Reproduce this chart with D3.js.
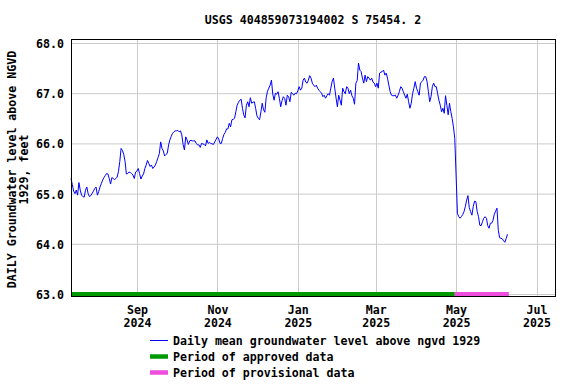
<!DOCTYPE html>
<html>
<head>
<meta charset="utf-8">
<script src="https://cdn.jsdelivr.net/npm/d3@7"></script>
<style>
  html, body { margin: 0; padding: 0; background: #fff; }
  svg { display: block; }
  text { font-family: "DejaVu Sans Mono", monospace; font-weight: bold; font-size: 11.6px; fill: #000; }
</style>
</head>
<body>
<svg id="chart" width="576" height="384"></svg>
<script>
// ---------------- DATA ----------------
const chartTitle = "USGS 404859073194002 S 75454. 2";
const yAxisLabel = ["DAILY Groundwater level above NGVD", "1929, feet"];
const seriesStart = "2024-07-13";          // first daily value
const dailyLevels = [
  65.30, 65.18, 65.05, 65.00, 65.07, 64.97, 65.22, 65.07, 64.97, 64.94,
  64.93, 65.07, 65.13, 65.00, 64.94, 64.96, 65.00, 65.05, 65.10, 65.13,
  64.97, 65.04, 65.13, 65.20, 65.27, 65.32, 65.36, 65.40, 65.39, 65.30,
  65.19, 65.32, 65.30, 65.28, 65.30, 65.33, 65.44, 65.64, 65.90, 65.86,
  65.78, 65.64, 65.39, 65.40, 65.43, 65.42, 65.40, 65.37, 65.30, 65.43,
  65.45, 65.50, 65.40, 65.29, 65.35, 65.39, 65.50, 65.57, 65.66, 65.60,
  65.54, 65.57, 65.50, 65.53, 65.57, 65.64, 65.72, 65.80, 66.03, 65.90,
  65.85, 65.75, 65.78, 65.80, 65.97, 66.07, 66.14, 66.20, 66.23, 66.25,
  66.25, 66.26, 66.23, 66.25, 66.17, 65.98, 65.87, 66.13, 66.07, 65.98,
  66.05, 66.06, 66.05, 66.05, 66.05, 66.00, 65.97, 65.97, 65.92, 66.00,
  65.99, 65.98, 65.95, 66.07, 66.00, 66.02, 66.00, 65.99, 65.98, 66.03,
  66.08, 66.13, 66.09, 66.00, 66.00, 66.10, 66.18, 66.22, 66.29, 66.29,
  66.40, 66.33, 66.47, 66.48, 66.50, 66.63, 66.76, 66.82, 66.86, 66.88,
  66.70, 66.57, 66.51, 66.76, 66.83, 66.73, 66.91, 66.80, 66.82, 66.83,
  66.70, 66.55, 66.50, 66.47, 66.63, 66.80, 66.67, 66.62, 66.91, 67.04,
  67.10, 67.16, 67.26, 66.98, 66.86, 67.00, 66.98, 67.03, 66.90, 66.73,
  66.85, 66.93, 66.90, 66.76, 66.96, 66.93, 66.83, 67.02, 66.99, 66.96,
  67.00, 66.99, 67.05, 67.13, 67.06, 67.10, 67.26, 67.30, 67.22, 67.20,
  67.26, 67.35, 67.30, 67.20, 67.16, 67.13, 67.16, 67.10, 67.06, 67.03,
  67.00, 66.93, 66.96, 66.90, 66.95, 66.99, 66.96, 67.10, 67.23, 67.30,
  67.10, 66.90, 66.73, 66.96, 66.86, 66.76, 67.10, 67.03, 66.99, 67.13,
  67.10, 66.99, 67.06, 66.95, 66.90, 66.78, 67.20, 67.25, 67.60, 67.46,
  67.43, 67.30, 67.20, 67.36, 67.23, 67.33, 67.30, 67.26, 67.30, 67.22,
  67.20, 67.13, 67.20, 67.10, 67.40, 67.42, 67.43, 67.46, 67.36, 67.40,
  67.30, 67.16, 67.03, 66.96, 66.95, 66.95, 66.96, 66.90, 66.96, 67.03,
  67.13, 67.10, 67.03, 66.96, 66.90, 66.98, 66.83, 66.70, 66.80, 66.99,
  67.10, 67.23, 67.10, 67.03, 66.96, 67.20, 67.23, 67.26, 67.33, 67.33,
  67.23, 67.03, 66.83, 66.93, 67.13, 67.20, 67.13, 67.13, 66.99, 66.86,
  66.76, 66.63, 66.70, 66.60, 66.95, 66.76, 66.57, 66.80, 66.63, 66.50,
  66.33, 66.10, 65.37, 64.61, 64.54, 64.51, 64.54, 64.58, 64.64, 64.74,
  64.87, 64.96, 64.72, 64.64, 64.57, 64.74, 64.85, 64.84, 64.64, 64.54,
  64.37, 64.36, 64.44, 64.51, 64.54, 64.51, 64.36, 64.31, 64.41, 64.41,
  64.47, 64.59, 64.65, 64.71, 64.27, 64.12, 64.11, 64.10, 64.06, 64.03,
  64.11, 64.19
];
const xDomain = ["2024-07-13", "2025-07-15"];
const yDomain = [63, 68];
const yTicks = [63, 64, 65, 66, 67, 68];
const xTicks = ["2024-09-01", "2024-11-01", "2025-01-01", "2025-03-01", "2025-05-01", "2025-07-01"];
const approvedPeriod = ["2024-07-13", "2025-04-30"];
const provisionalPeriod = ["2025-04-30", "2025-06-10"];
const legendLabels = [
  "Daily mean groundwater level above ngvd 1929",
  "Period of approved data",
  "Period of provisional data"
];

// ---------------- DRAW ----------------
const parse = d3.utcParse("%Y-%m-%d");
const svg = d3.select("#chart");
const mLeft = 71, mRight = 555, mTop = 39, mBottom = 296;

const x = d3.scaleUtc().domain(xDomain.map(parse)).range([mLeft, mRight]);
const y = d3.scaleLinear().domain(yDomain).range([294, 43]);

const start = parse(seriesStart);
const series = dailyLevels.map((v, i) => ({ date: d3.utcDay.offset(start, i), value: v }));

// grid
const grid = svg.append("g");
grid.selectAll("line.h").data(yTicks).join("line")
  .attr("x1", mLeft).attr("x2", mRight)
  .attr("y1", d => y(d) + 0.5).attr("y2", d => y(d) + 0.5)
  .attr("stroke", "#cccccc").attr("stroke-width", 1);
grid.selectAll("line.v").data(xTicks.map(parse)).join("line")
  .attr("x1", d => Math.round(x(d)) + 0.5).attr("x2", d => Math.round(x(d)) + 0.5)
  .attr("y1", mTop).attr("y2", mBottom)
  .attr("stroke", "#cccccc").attr("stroke-width", 1);

// period bars
const bars = svg.append("g");
[[approvedPeriod, "#009900"], [provisionalPeriod, "#ee4ddd"]].forEach(([p, c]) => {
  bars.append("rect")
    .attr("x", x(parse(p[0]))).attr("width", x(parse(p[1])) - x(parse(p[0])))
    .attr("y", y(63) - 2).attr("height", 4.5)
    .attr("fill", c);
});

// line
svg.append("path").datum(series)
  .attr("fill", "none").attr("stroke", "#0000ff").attr("stroke-width", 1)
  .attr("d", d3.line().x(d => x(d.date)).y(d => y(d.value)));

// frame
svg.append("rect")
  .attr("x", mLeft + 0.5).attr("y", mTop + 0.5)
  .attr("width", mRight - mLeft).attr("height", mBottom - mTop)
  .attr("fill", "none").attr("stroke", "#000").attr("stroke-width", 1);

// y axis labels
const yAxis = d3.axisLeft(y).tickValues(yTicks).tickFormat(d3.format(".1f")).tickSize(0).tickPadding(0);
const gy = svg.append("g").attr("transform", `translate(${mLeft - 7},0)`).call(yAxis);
gy.select(".domain").remove();
gy.attr("font-family", null).attr("font-size", null);
gy.selectAll("text").attr("dy", "0.38em");

// x axis labels (two lines)
const xAxis = d3.axisBottom(x).tickValues(xTicks.map(parse)).tickSize(0).tickFormat("");
const gx = svg.append("g").attr("transform", `translate(0,${mBottom})`).call(xAxis);
gx.select(".domain").remove();
gx.attr("font-family", null).attr("font-size", null);
gx.selectAll(".tick").each(function(d) {
  const t = d3.select(this).append("text").attr("text-anchor", "middle");
  t.append("tspan").attr("x", 0).attr("y", 18).text(d3.utcFormat("%b")(d));
  t.append("tspan").attr("x", 0).attr("y", 31).text(d3.utcFormat("%Y")(d));
});

// title
svg.append("text").attr("x", (mLeft + mRight) / 2).attr("y", 24)
  .attr("text-anchor", "middle").text(chartTitle);

// y axis title
const cy = (mTop + mBottom) / 2 + 2;
yAxisLabel.forEach((s, i) => {
  svg.append("text")
    .attr("transform", `translate(${16 + i * 12},${cy}) rotate(-90)`)
    .attr("text-anchor", "middle").text(s);
});

// legend
const legend = svg.append("g");
const rows = [
  { label: legendLabels[0], color: "#0000ff", w: 1 },
  { label: legendLabels[1], color: "#009900", w: 4.5 },
  { label: legendLabels[2], color: "#ee4ddd", w: 4.5 }
];
rows.forEach((r, i) => {
  const ly = 340.5 + i * 16;
  legend.append("line").attr("x1", 150).attr("x2", 168)
    .attr("y1", ly).attr("y2", ly)
    .attr("stroke", r.color).attr("stroke-width", r.w);
  legend.append("text").attr("x", 173).attr("y", ly).attr("dy", "0.38em").text(r.label);
});
</script>
</body>
</html>
